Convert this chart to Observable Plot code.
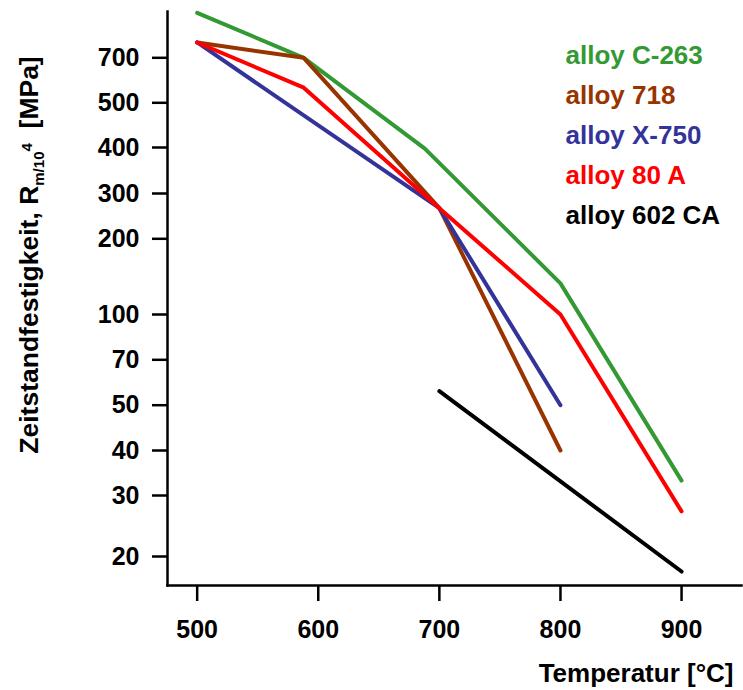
<!DOCTYPE html>
<html><head><meta charset="utf-8">
<script src="https://cdn.jsdelivr.net/npm/d3@7"></script>
<script src="https://cdn.jsdelivr.net/npm/@observablehq/plot@0.6"></script>
<style>body{margin:0;background:#fff} #chart svg{display:block}</style>
</head><body><div id="chart"></div>
<script>
const alloys = ["alloy C-263", "alloy 718", "alloy X-750", "alloy 80 A", "alloy 602 CA"];
const colors = ["#339933", "#993300", "#333399", "#ff0000", "#000000"];

const tempC263 = [500, 588, 688, 800, 900];
const valC263  = [980, 700, 397, 133, 33];
const temp718  = [500, 588, 700, 800];
const val718   = [785, 700, 263, 40];
const tempX750 = [500, 700, 800];
const valX750  = [785, 263, 50];
const temp80A  = [500, 588, 700, 800, 900];
const val80A   = [785, 560, 263, 100, 27];
const temp602  = [700, 900];
const val602   = [55.5, 18.1];

const xTicks = [500, 600, 700, 800, 900];
const yTicks = [20, 30, 40, 50, 70, 100, 200, 300, 400, 500, 700];

const series = [[tempC263, valC263], [temp718, val718], [tempX750, valX750], [temp80A, val80A], [temp602, val602]];
const rows = series.flatMap(([t, v], i) => t.map((T, j) => ({alloy: alloys[i], T, R: v[j]})));

const font = "'Liberation Sans', Arial, Helvetica, sans-serif";

const plot = Plot.plot({
  width: 743,
  height: 690,
  marginLeft: 167,
  marginRight: 2,
  marginTop: 11,
  marginBottom: 105,
  style: {fontFamily: font, background: "#fff", color: "#000"},
  x: {domain: [475.5, 949.5]},
  y: {type: "log", domain: yTicks, range: [556, 495, 450, 404.7, 359.3, 314, 238.3, 193, 147, 102.3, 57.3]},
  color: {domain: alloys, range: colors},
  marks: [
    Plot.axisX({ticks: xTicks, tickSize: 16, tickPadding: 19, strokeWidth: 2.5, fontSize: 25, fontWeight: "bold", label: null, tickFormat: d => String(d)}),
    Plot.axisY({ticks: yTicks, tickSize: 15, strokeWidth: 2.5, label: null, tickFormat: () => ""}),
    Plot.text(yTicks, {y: d => d, text: d => String(d), frameAnchor: "left", textAnchor: "end", dx: -28, fontSize: 25, fontWeight: "bold", fill: "#000"}),
    Plot.line(rows, {x: "T", y: "R", z: "alloy", stroke: "alloy", strokeWidth: 4, strokeLinecap: "round", strokeLinejoin: "miter"}),
    Plot.frame({anchor: "left", strokeWidth: 2.5, strokeLinecap: "square"}),
    Plot.frame({anchor: "bottom", strokeWidth: 2.5, strokeLinecap: "square"}),
    ...alloys.map((a, i) => Plot.text([a], {text: d => d, frameAnchor: "top-left", textAnchor: "start", lineAnchor: "bottom", dx: 398, dy: 52 + i * 40, fill: colors[i], fontSize: 26, fontWeight: "bold"})),
    Plot.text(["Temperatur [°C]"], {text: d => d, frameAnchor: "bottom-right", textAnchor: "end", lineAnchor: "bottom", dx: -8, dy: 96, fontSize: 26, fontWeight: "bold"})
  ]
});

const svg = d3.select(plot);
const lab = svg.append("text")
  .attr("transform", "translate(37.5,255) rotate(-90)")
  .attr("text-anchor", "middle")
  .attr("font-family", font)
  .attr("font-weight", "bold")
  .attr("font-size", 26.5)
  .attr("fill", "#000");
lab.append("tspan").text("Zeitstandfestigkeit, R");
lab.append("tspan").attr("font-size", 15).attr("dy", 6).text("m/10");
lab.append("tspan").attr("font-size", 15).attr("dy", -12).text("4");
lab.append("tspan").attr("dy", 6).text("\u00a0\u00a0[MPa]");

document.getElementById("chart").appendChild(plot);
</script>
</body></html>
